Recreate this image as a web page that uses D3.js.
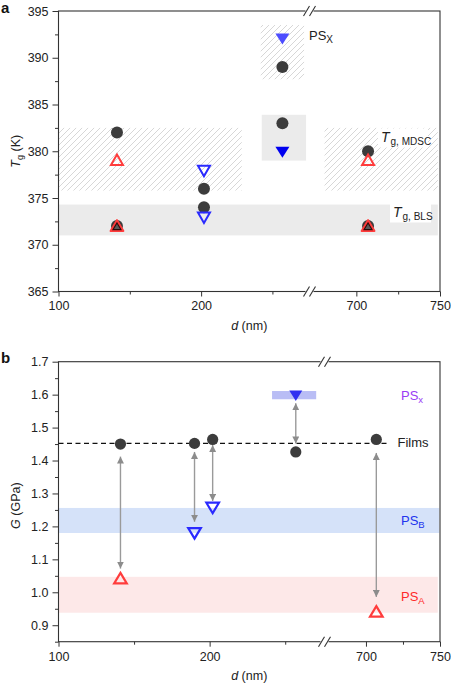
<!DOCTYPE html>
<html><head><meta charset="utf-8">
<script src="https://cdn.jsdelivr.net/npm/d3@7"></script>
<style>
html,body{margin:0;padding:0;background:#fff;}
svg{display:block;font-family:"Liberation Sans",Arial,sans-serif;}
</style></head><body>
<script>
// ---------- data ----------
const xTickValues = [100, 200, 700, 750];
const xMinorTicks = [150, 250, 725];
const xBreak = [276, 672];

// panel a
const tgTicks = [365, 370, 375, 380, 385, 390, 395];
const tgMinor = [367.5, 372.5, 377.5, 382.5, 387.5, 392.5];
const aCircleD = [141, 141, 202, 202, 257, 257, 707, 707];
const aCircleT = [382, 372, 376, 374, 389, 383, 380, 372];
const aRedOpenD = [141, 707];
const aRedOpenT = [379.1, 379.1];
const aRedDarkD = [141, 707];
const aRedDarkT = [372, 372];
const aBlueOpenD = [202, 202];
const aBlueOpenT = [377.9, 372.9];
const aBlueFillD = [257, 257];
const aBlueFillT = [392, 379.9];
const aBlueFillColor = ["#4d4dff", "#0000f0"];
// bands: [d0, d1, T0, T1]
const aHatchBands = [[100, 228.5, 375.8, 382.5], [681, 748.7, 375.8, 382.5], [241.8, 272.2, 387.7, 393.5]];
const aGrayBands = [[100, 748.7, 371.0, 374.3], [242.5, 273.6, 379.0, 383.9]];

// panel b
const gTicks = [0.9, 1.0, 1.1, 1.2, 1.3, 1.4, 1.5, 1.6, 1.7];
const gMinor = [0.85, 0.95, 1.05, 1.15, 1.25, 1.35, 1.45, 1.55, 1.65];
const bCircleD = [141, 190, 202, 257, 707];
const bCircleG = [1.450, 1.452, 1.464, 1.426, 1.464];
const bRedOpenD = [141, 707];
const bRedOpenG = [1.043, 0.942];
const bBlueOpenD = [190, 202];
const bBlueOpenG = [1.179, 1.256];
const bBlueFillD = [257];
const bBlueFillG = [1.597];
const filmsG = 1.452;
const filmsD = [100, 716];
// arrows: d, from G, to G
const arrowD = [141, 190, 202, 257, 707];
const arrowTop = [1.412, 1.426, 1.447, 1.574, 1.423];
const arrowBot = [1.072, 1.214, 1.277, 1.452, 0.986];
// bands [d0,d1,G0,G1,color]
const bBands = [[100, 748.5, 0.938, 1.047, "#fde8e8"], [100, 749.5, 1.18, 1.256, "#d5e2f9"], [241.3, 270.5, 1.586, 1.611, "#b9bdf5"]];

// ---------- drawing ----------
const W = 451, H = 685;
const svg = d3.select("body").append("svg").attr("width", W).attr("height", H);
const defs = svg.append("defs");
const pat = defs.append("pattern").attr("id", "hatch").attr("patternUnits", "userSpaceOnUse")
  .attr("width", 6).attr("height", 6);
pat.append("path").attr("d", "M-1,1 l2,-2 M0,6 l6,-6 M5,7 l2,-2")
  .attr("stroke", "#cdcdcd").attr("stroke-width", 0.8);

const RED = "#ff3c3c", BLUE = "#2a2aff", DARK = "#3c3c3c", FRAME = "#333";

function triPath(cx, cy, w, h, up) {
  const s = up ? 1 : -1;
  return `M${cx},${cy - s * h / 2} L${cx + w},${cy + s * h / 2} L${cx - w},${cy + s * h / 2} Z`;
}

function panel(cfg) {
  const g = svg.append("g");
  const x = cfg.x, y = cfg.y;
  const [x0, x1] = [x.range()[0], x.range()[3]];
  const [yb, yt] = y.range();
  cfg.drawBands(g);
  // frame
  g.append("rect").attr("x", x0).attr("y", yt).attr("width", x1 - x0).attr("height", yb - yt)
    .attr("fill", "none").attr("stroke", FRAME).attr("stroke-width", 1.1);
  // y axis
  const ya = g.append("g").attr("transform", `translate(${x0},0)`)
    .call(d3.axisLeft(y).tickValues(cfg.yTicks).tickSize(6).tickPadding(4).tickFormat(cfg.yFmt));
  ya.select(".domain").remove();
  ya.selectAll("line").attr("stroke", FRAME);
  ya.selectAll("text").attr("font-size", 12.5).attr("fill", "#222").attr("font-family", "Liberation Sans, Arial, sans-serif");
  const ym = g.append("g").attr("transform", `translate(${x0},0)`)
    .call(d3.axisLeft(y).tickValues(cfg.yMinor).tickSize(3.5).tickFormat(""));
  ym.select(".domain").remove();
  ym.selectAll("line").attr("stroke", FRAME);
  // x axis
  const xa = g.append("g").attr("transform", `translate(0,${yb})`)
    .call(d3.axisBottom(x).tickValues(xTickValues).tickSize(5).tickPadding(5).tickFormat(d3.format("d")));
  xa.select(".domain").remove();
  xa.selectAll("line").attr("stroke", FRAME);
  xa.selectAll("text").attr("font-size", 12.5).attr("fill", "#222").attr("font-family", "Liberation Sans, Arial, sans-serif");
  const xm = g.append("g").attr("transform", `translate(0,${yb})`)
    .call(d3.axisBottom(x).tickValues(xMinorTicks).tickSize(3).tickFormat(""));
  xm.select(".domain").remove();
  xm.selectAll("line").attr("stroke", FRAME);
  // break marks
  const bx = x(xBreak[0]);
  [yt, yb].forEach(yy => {
    g.append("rect").attr("x", bx - 4).attr("y", yy - 2).attr("width", 8).attr("height", 4).attr("fill", "#fff");
    [-3, 3].forEach(o => {
      g.append("line").attr("x1", bx + o - 3).attr("y1", yy + 5).attr("x2", bx + o + 3).attr("y2", yy - 5)
        .attr("stroke", FRAME).attr("stroke-width", 1.1);
    });
  });
  // x label
  const xl = g.append("text").attr("x", (x0 + x1) / 2).attr("y", yb + 38).attr("text-anchor", "middle")
    .attr("font-size", 12.5).attr("fill", "#222");
  xl.append("tspan").attr("font-style", "italic").text("d");
  xl.append("tspan").text(" (nm)");
  return g;
}

// ---------- panel a ----------
const xa = d3.scaleLinear().domain([100, xBreak[0], xBreak[1], 750]).range([58.5, 309.5, 309.5, 440]);
const ya = d3.scaleLinear().domain([365, 395]).range([291.5, 11]);
const ga = panel({
  x: xa, y: ya, yTicks: tgTicks, yMinor: tgMinor, yFmt: d3.format("d"),
  drawBands: g => {
    aGrayBands.forEach(b => g.append("rect").attr("x", xa(b[0])).attr("width", xa(b[1]) - xa(b[0]))
      .attr("y", ya(b[3])).attr("height", ya(b[2]) - ya(b[3])).attr("fill", "#ebebeb"));
    aHatchBands.forEach(b => g.append("rect").attr("x", xa(b[0])).attr("width", xa(b[1]) - xa(b[0]))
      .attr("y", ya(b[3])).attr("height", ya(b[2]) - ya(b[3])).attr("fill", "url(#hatch)"));
  }
});
// labels with white background
function tgLabel(g, xx, yy, sub, bgw) {
  g.append("rect").attr("x", xx - 3).attr("y", yy - 13).attr("width", bgw).attr("height", 19).attr("fill", "#fff");
  const t = g.append("text").attr("x", xx).attr("y", yy).attr("fill", "#222");
  t.append("tspan").attr("font-style", "italic").attr("font-size", 14).text("T");
  t.append("tspan").attr("font-size", 10).attr("dy", 3).attr("dx", 1).text(sub);
}
tgLabel(ga, 381, 141.5, "g, MDSC", 50);
tgLabel(ga, 393, 216.5, "g, BLS", 41);
{
  const t = ga.append("text").attr("x", 309).attr("y", 39.5).attr("fill", "#222").attr("font-size", 13);
  t.append("tspan").text("PS");
  t.append("tspan").attr("font-size", 10).attr("dy", 3).text("X");
}
// marks panel a
ga.selectAll(".ca").data(aCircleD).join("circle")
  .attr("cx", d => xa(d)).attr("cy", (d, i) => ya(aCircleT[i])).attr("r", 6).attr("fill", DARK);
ga.selectAll(".ro").data(aRedOpenD).join("path")
  .attr("d", (d, i) => triPath(xa(d), ya(aRedOpenT[i]), 6, 10.5, true))
  .attr("fill", "none").attr("stroke", RED).attr("stroke-width", 2);
ga.selectAll(".rd").data(aRedDarkD).join("path")
  .attr("d", (d, i) => triPath(xa(d), ya(aRedDarkT[i]) - 0.5, 6.5, 11, true))
  .attr("fill", "#2e0a0a").attr("stroke", RED).attr("stroke-width", 1.8).attr("stroke-linejoin", "round");
ga.selectAll(".rdi").data(aRedDarkD).join("path")
  .attr("d", (d, i) => triPath(xa(d), ya(aRedDarkT[i]) + 0.5, 3, 5, true))
  .attr("fill", "#5a5a5a");
ga.selectAll(".bo").data(aBlueOpenD).join("path")
  .attr("d", (d, i) => triPath(xa(d), ya(aBlueOpenT[i]), 6, 10.5, false))
  .attr("fill", "none").attr("stroke", BLUE).attr("stroke-width", 2);
ga.selectAll(".bf").data(aBlueFillD).join("path")
  .attr("d", (d, i) => triPath(xa(d), ya(aBlueFillT[i]), 7, 11, false))
  .attr("fill", (d, i) => aBlueFillColor[i]);

// axis title a
{
  const t = svg.append("text").attr("transform", `translate(20,${(11 + 291.5) / 2}) rotate(-90)`)
    .attr("text-anchor", "middle").attr("fill", "#222").attr("font-size", 12.5);
  t.append("tspan").attr("font-style", "italic").text("T");
  t.append("tspan").attr("font-size", 9).attr("dy", 3).text("g");
  t.append("tspan").attr("dy", -3).text(" (K)");
}
svg.append("text").attr("x", 1).attr("y", 13).attr("font-weight", "bold").attr("font-size", 15).attr("fill", "#111").text("a");

// ---------- panel b ----------
const xb = d3.scaleLinear().domain([100, xBreak[0], xBreak[1], 750]).range([58.5, 324.5, 324.5, 440]);
const yb = d3.scaleLinear().domain([0.85, 1.7]).range([641.7, 361.7]);
const gb = panel({
  x: xb, y: yb, yTicks: gTicks, yMinor: gMinor, yFmt: d3.format(".1f"),
  drawBands: g => {
    bBands.forEach(b => g.append("rect").attr("x", xb(b[0])).attr("width", xb(b[1]) - xb(b[0]))
      .attr("y", yb(b[3])).attr("height", yb(b[2]) - yb(b[3])).attr("fill", b[4]));
  }
});
// films line
gb.append("line").attr("x1", xb(filmsD[0])).attr("x2", xb(filmsD[1])).attr("y1", yb(filmsG)).attr("y2", yb(filmsG))
  .attr("stroke", "#111").attr("stroke-width", 1.2).attr("stroke-dasharray", "5,3.5");
// arrows
defs.append("marker").attr("id", "ah").attr("viewBox", "0 0 10 10").attr("refX", 10).attr("refY", 5)
  .attr("markerWidth", 7).attr("markerHeight", 7).attr("markerUnits", "userSpaceOnUse").attr("orient", "auto-start-reverse")
  .append("path").attr("d", "M0,0 L10,5 L0,10 Z").attr("fill", "#8c8c8c");
gb.selectAll(".ar").data(arrowD).join("line")
  .attr("x1", d => xb(d)).attr("x2", d => xb(d))
  .attr("y1", (d, i) => yb(arrowTop[i])).attr("y2", (d, i) => yb(arrowBot[i]))
  .attr("stroke", "#9a9a9a").attr("stroke-width", 1.4)
  .attr("marker-start", "url(#ah)").attr("marker-end", "url(#ah)");
// marks
gb.selectAll(".cb").data(bCircleD).join("circle")
  .attr("cx", d => xb(d)).attr("cy", (d, i) => yb(bCircleG[i])).attr("r", 5.6).attr("fill", DARK);
gb.selectAll(".rb").data(bRedOpenD).join("path")
  .attr("d", (d, i) => triPath(xb(d), yb(bRedOpenG[i]), 6.3, 10.5, true))
  .attr("fill", "none").attr("stroke", RED).attr("stroke-width", 2.2);
gb.selectAll(".bbo").data(bBlueOpenD).join("path")
  .attr("d", (d, i) => triPath(xb(d), yb(bBlueOpenG[i]), 6.3, 10.5, false))
  .attr("fill", "none").attr("stroke", BLUE).attr("stroke-width", 2.2);
gb.selectAll(".bbf").data(bBlueFillD).join("path")
  .attr("d", (d, i) => triPath(xb(d), yb(bBlueFillG[i]), 6.5, 10.5, false))
  .attr("fill", "#3030f0");
// labels b
function psLabel(g, xx, yy, sub, col) {
  const t = g.append("text").attr("x", xx).attr("y", yy).attr("fill", col).attr("font-size", 13);
  t.append("tspan").text("PS");
  t.append("tspan").attr("font-size", 9.5).attr("dy", 3).text(sub);
}
psLabel(gb, 401, 399.5, "x", "#9a3cf5");
psLabel(gb, 401, 525, "B", "#2233ee");
psLabel(gb, 401, 600.5, "A", "#ff2a2a");
gb.append("text").attr("x", 397.5).attr("y", 447).attr("font-size", 13).attr("fill", "#222").text("Films");
{
  const t = svg.append("text").attr("transform", `translate(20,${(361.7 + 641.7) / 2 + 4}) rotate(-90)`)
    .attr("text-anchor", "middle").attr("fill", "#222").attr("font-size", 12.5);
  t.append("tspan").attr("font-style", "italic").text("G");
  t.append("tspan").text(" (GPa)");
}
svg.append("text").attr("x", 1).attr("y", 363).attr("font-weight", "bold").attr("font-size", 15).attr("fill", "#111").text("b");
</script>
</body></html>
